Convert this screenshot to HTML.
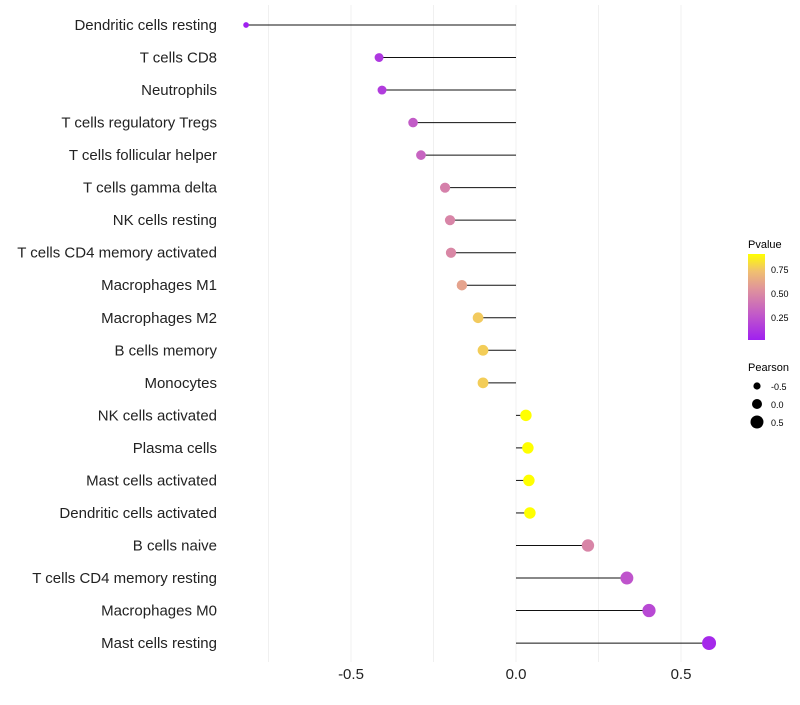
<!DOCTYPE html>
<html><head><meta charset="utf-8"><style>
body{margin:0;background:#fff;font-family:"Liberation Sans",sans-serif}
</style></head><body>
<svg id="chart" width="800" height="700" xmlns="http://www.w3.org/2000/svg">
<defs><linearGradient id="pg" x1="0" y1="1" x2="0" y2="0">
<stop offset="0" stop-color="#a020f0"/><stop offset="0.3" stop-color="#c25ac8"/><stop offset="0.6" stop-color="#e0959a"/><stop offset="0.8" stop-color="#f0c070"/><stop offset="1" stop-color="#ffff00"/></linearGradient></defs>
<g id="grid"></g><g id="marks"></g><g id="labels"></g>
<g>
<text x="748" y="248" font-size="11" fill="#000">Pvalue</text>
<rect x="748" y="254" width="17" height="86" fill="url(#pg)"/>
<text x="771" y="273" font-size="9">0.75</text>
<text x="771" y="297" font-size="9">0.50</text>
<text x="771" y="321" font-size="9">0.25</text>
</g>
<g>
<text x="748" y="371" font-size="11">Pearson</text>
<circle cx="757" cy="386" r="3.6" fill="#000"/><text x="771" y="390" font-size="9">-0.5</text>
<circle cx="757" cy="404" r="5" fill="#000"/><text x="771" y="408" font-size="9">0.0</text>
<circle cx="757" cy="422" r="6.5" fill="#000"/><text x="771" y="426" font-size="9">0.5</text>
</g>
</svg>
<script>
const categories=["Dendritic cells resting","T cells CD8","Neutrophils","T cells regulatory  Tregs ","T cells follicular helper","T cells gamma delta","NK cells resting","T cells CD4 memory activated","Macrophages M1","Macrophages M2","B cells memory","Monocytes","NK cells activated","Plasma cells","Mast cells activated","Dendritic cells activated","B cells naive","T cells CD4 memory resting","Macrophages M0","Mast cells resting"];
const pearson=[-0.821,-0.418,-0.409,-0.315,-0.291,-0.218,-0.203,-0.2,-0.167,-0.118,-0.103,-0.103,0.027,0.033,0.036,0.039,0.215,0.333,0.4,0.582];
const pvalue=[0.01,0.12,0.14,0.28,0.32,0.45,0.47,0.48,0.6,0.75,0.76,0.76,0.9,0.9,0.9,0.9,0.47,0.25,0.2,0.05];
const xTicks=[-0.5,0,0.5];
const xTickLabels=["-0.5","0.0","0.5"];
const gridValues=[-0.75,-0.5,-0.25,0,0.25,0.5];
const NS="http://www.w3.org/2000/svg";
const x=v=>516+v*330, y=i=>25+i*32.53;
function col(p){const t=Math.max(0,Math.min(1,(p-0.01)/0.89));
const st=[[0,[160,32,240]],[0.3,[194,90,200]],[0.6,[224,149,154]],[0.8,[240,192,112]],[1,[255,255,0]]];
for(let k=1;k<st.length;k++){if(t<=st[k][0]){const a=st[k-1],b=st[k],f=(t-a[0])/(b[0]-a[0]);return "rgb("+a[1].map((c,j)=>Math.round(c+(b[1][j]-c)*f)).join(",")+")";}}return "rgb(255,255,0)";}
function mk(tag,at,parent){const e=document.createElementNS(NS,tag);for(const k in at)e.setAttribute(k,at[k]);document.getElementById(parent).appendChild(e);return e;}
gridValues.forEach(g=>{const l=mk("line",{x1:x(g),x2:x(g),y1:5,y2:662,stroke:"#f0f0f0","stroke-width":1},"grid");

});
xTicks.forEach((t,i)=>{const e=mk("text",{x:x(t),y:679,"font-size":15,"text-anchor":"middle",fill:"#222"},"labels");e.textContent=xTickLabels[i];

});
categories.forEach((c,i)=>{
const t=mk("text",{x:217,y:y(i)+5,"font-size":15,"text-anchor":"end",fill:"#222"},"labels");t.textContent=c;


const l=mk("line",{x1:x(0),x2:x(pearson[i]),y1:y(i),y2:y(i),stroke:"#111","stroke-width":1},"marks");


const r=Math.sqrt(Math.max(3,32+29*pearson[i]));
const d=mk("circle",{cx:x(pearson[i])+1,cy:y(i),r:r,fill:col(pvalue[i])},"marks");


});
</script>
</body></html>
